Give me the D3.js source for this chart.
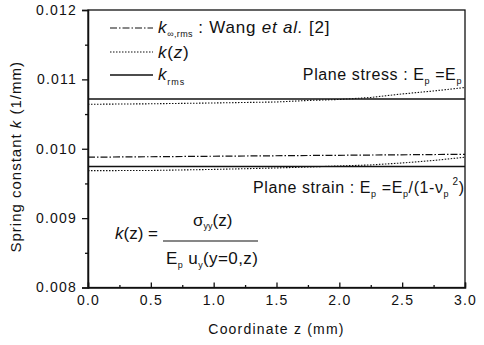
<!DOCTYPE html>
<html>
<head>
<meta charset="utf-8">
<script src="https://cdn.jsdelivr.net/npm/d3@7"></script>
<style>
  body { margin: 0; background: #fff; }
  svg { font-family: 'Liberation Sans', Arial, sans-serif; }
</style>
</head>
<body>
<svg id="chart"></svg>
<script>
const width = 484
const height = 345

// coordinate z (mm)
const zGrid = [0, 0.5, 1.0, 1.5, 1.75, 2.0, 2.25, 2.5, 2.75, 3.0]
// plane stress
const kzStress = [0.010641, 0.010648, 0.01066, 0.010674, 0.010696, 0.01071, 0.010739, 0.01079, 0.010833, 0.010883]
const kRmsStress = 0.010718
// plane strain
const kzStrain = [0.009684, 0.009687, 0.009702, 0.009723, 0.009737, 0.009752, 0.009767, 0.009795, 0.009831, 0.009878]
const kRmsStrain = 0.009745
// Wang et al. [2]
const zWang = [0, 3]
const kInfRms = [0.009878, 0.00992]

const xTicks = [0, 0.5, 1.0, 1.5, 2.0, 2.5, 3.0]
const xMinor = [0.25, 0.75, 1.25, 1.75, 2.25, 2.75]
const yTicks = [0.008, 0.009, 0.010, 0.011, 0.012]
const yMinor = [0.0085, 0.0095, 0.0105, 0.0115]

const margin = { left: 88, right: 19, top: 10, bottom: 57.5 }

const svg = d3.select('#chart').attr('width', width).attr('height', height)

const x = d3.scaleLinear().domain([0, 3]).range([margin.left, width - margin.right])
const y = d3.scaleLinear().domain([0.008, 0.012]).range([height - margin.bottom, margin.top])

const ink = '#111'

// frame
svg.append('rect')
  .attr('x', x(0)).attr('y', y(0.012))
  .attr('width', x(3) - x(0)).attr('height', y(0.008) - y(0.012))
  .attr('fill', 'none').attr('stroke', ink).attr('stroke-width', 1.3)

// x axis, ticks inward
const xAxis = svg.append('g').attr('transform', `translate(0,${y(0.008)})`)
xAxis.call(d3.axisBottom(x).tickValues(xTicks).tickSize(-5).tickPadding(8).tickFormat(d3.format('.1f')))
xAxis.append('g').call(d3.axisBottom(x).tickValues(xMinor).tickSize(-2.5).tickFormat(''))
  .call((g) => g.select('.domain').remove())

// y axis, ticks outward
const yAxis = svg.append('g').attr('transform', `translate(${x(0)},0)`)
yAxis.call(d3.axisLeft(y).tickValues(yTicks).tickSize(6).tickPadding(5).tickFormat(d3.format('.3f')))
yAxis.append('g').call(d3.axisLeft(y).tickValues(yMinor).tickSize(3).tickFormat(''))
  .call((g) => g.select('.domain').remove())

svg.selectAll('.domain').attr('stroke', ink).attr('stroke-width', 1.5)
svg.selectAll('.tick line').attr('stroke', ink).attr('stroke-width', 1.3)
svg.selectAll('.tick text')
  .attr('font-size', 14).attr('fill', ink)
  .attr('font-family', "'Liberation Sans', Arial, sans-serif")
  .style('letter-spacing', '1.2px')

// axis titles
svg.append('text')
  .attr('x', (x(0) + x(3)) / 2).attr('y', 334)
  .attr('text-anchor', 'middle').attr('font-size', 14).attr('fill', ink)
  .style('letter-spacing', '1.2px')
  .text('Coordinate z (mm)')

const yt = svg.append('text')
  .attr('transform', `translate(21,${(y(0.008) + y(0.012)) / 2 + 8}) rotate(-90)`)
  .attr('text-anchor', 'middle').attr('font-size', 15).attr('fill', ink)
  .style('letter-spacing', '1px')
yt.append('tspan').text('Spring constant  ')
yt.append('tspan').attr('font-style', 'italic').text('k')
yt.append('tspan').text(' (1/mm)')

// lines
const line = d3.line().x((d) => x(d[0])).y((d) => y(d[1]))
const styles = {
  wang: { dash: '7,2,1.5,2', w: 1.2 },
  kz: { dash: '1.5,1.5', w: 1.1 },
  rms: { dash: null, w: 1.4 },
}

const series = [
  { data: d3.zip(zWang, kInfRms), s: styles.wang },
  { data: d3.zip(zGrid, kzStress), s: styles.kz },
  { data: d3.zip(zGrid, kzStrain), s: styles.kz },
  { data: [[0, kRmsStress], [3, kRmsStress]], s: styles.rms },
  { data: [[0, kRmsStrain], [3, kRmsStrain]], s: styles.rms },
]

svg.append('g')
  .selectAll('path')
  .data(series)
  .join('path')
  .attr('d', (d) => line(d.data))
  .attr('fill', 'none')
  .attr('stroke', ink)
  .attr('stroke-width', (d) => d.s.w)
  .attr('stroke-dasharray', (d) => d.s.dash)

// legend
const legend = [
  { s: styles.wang, y: 28 },
  { s: styles.kz, y: 52 },
  { s: styles.rms, y: 75 },
]
svg.append('g')
  .selectAll('line')
  .data(legend)
  .join('line')
  .attr('x1', 110).attr('x2', 153)
  .attr('y1', (d) => d.y).attr('y2', (d) => d.y)
  .attr('stroke', ink)
  .attr('stroke-width', (d) => d.s.w)
  .attr('stroke-dasharray', (d) => d.s.dash)

const lt = svg.append('g').attr('font-size', 17).attr('fill', ink).style('letter-spacing', '0.8px')
const t1 = lt.append('text').attr('x', 158).attr('y', 33)
t1.append('tspan').attr('font-style', 'italic').text('k')
t1.append('tspan').attr('font-size', 9).attr('dy', 4).style('letter-spacing', '0.3px').text('∞,rms')
t1.append('tspan').attr('dy', -4).text(' : Wang ')
t1.append('tspan').attr('font-style', 'italic').text('et al.')
t1.append('tspan').text(' [2]')

const t2 = lt.append('text').attr('x', 158).attr('y', 58)
t2.append('tspan').attr('font-style', 'italic').text('k')
t2.append('tspan').text('(')
t2.append('tspan').attr('font-style', 'italic').text('z')
t2.append('tspan').text(')')

const t3 = lt.append('text').attr('x', 158).attr('y', 80)
t3.append('tspan').attr('font-style', 'italic').text('k')
t3.append('tspan').attr('font-size', 9).attr('dy', 5).style('letter-spacing', '1px').text('rms')

// annotations
const ann = svg.append('g').attr('font-size', 16).attr('fill', ink).style('letter-spacing', '0.6px')
const a1 = ann.append('text').attr('x', 462).attr('y', 80).attr('text-anchor', 'end')
a1.append('tspan').text('Plane stress : E')
a1.append('tspan').attr('font-size', 9).attr('dy', 4).text('p')
a1.append('tspan').attr('dy', -4).text(' =E')
a1.append('tspan').attr('font-size', 9).attr('dy', 4).text('p')

const a2 = ann.append('text').attr('x', 253).attr('y', 193)
a2.append('tspan').text('Plane strain : E')
a2.append('tspan').attr('font-size', 9).attr('dy', 4).text('p')
a2.append('tspan').attr('dy', -4).text(' =E')
a2.append('tspan').attr('font-size', 9).attr('dy', 4).text('p')
a2.append('tspan').attr('dy', -4).text('/(1-ν')
a2.append('tspan').attr('font-size', 9).attr('dy', 4).text('p')
a2.append('tspan').attr('font-size', 10).attr('dy', -12).text(' 2')
a2.append('tspan').attr('dy', 8).text(')')

// formula
const f = svg.append('g').attr('font-size', 17).attr('fill', ink)
const f1 = f.append('text').attr('x', 115).attr('y', 239)
f1.append('tspan').attr('font-style', 'italic').text('k')
f1.append('tspan').text('(z) =')
f.append('line').attr('x1', 163).attr('x2', 258).attr('y1', 241).attr('y2', 241)
  .attr('stroke', ink).attr('stroke-width', 1.2)
const f2 = f.append('text').attr('x', 193).attr('y', 226)
f2.append('tspan').text('σ')
f2.append('tspan').attr('font-size', 9).attr('dy', 3).text('yy')
f2.append('tspan').attr('dy', -3).text('(z)')
const f3 = f.append('text').attr('x', 166).attr('y', 264).style('letter-spacing', '0.4px')
f3.append('tspan').text('E')
f3.append('tspan').attr('font-size', 9).attr('dy', 4).text('p')
f3.append('tspan').attr('dy', -4).text('  u')
f3.append('tspan').attr('font-size', 9).attr('dy', 4).text('y')
f3.append('tspan').attr('dy', -4).text('(y=0,z)')
</script>
</body>
</html>
